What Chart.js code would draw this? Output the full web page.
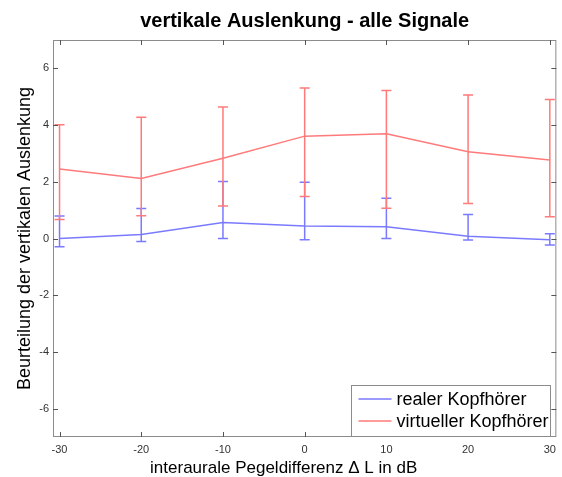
<!DOCTYPE html>
<html lang="de">

<head>
    <meta charset="UTF-8" />
    <title>vertikale Auslenkung - alle Signale</title>
    <script src="https://cdn.jsdelivr.net/npm/chart.js"></script>
    <style>
        body { margin: 0; background: #fff; }
    </style>
</head>

<body>
    <canvas id="chart" width="562" height="477"></canvas>

    <script>
        // Werte
        const levels = [-30, -20, -10, 0, 10, 20, 30];
        const realMean = [0.00, 0.14, 0.56, 0.44, 0.41, 0.08, -0.04];
        const realLow = [-0.29, -0.11, 0.00, -0.04, 0.00, -0.05, -0.23];
        const realHigh = [0.79, 1.06, 2.01, 1.98, 1.42, 0.85, 0.17];
        const virtMean = [2.45, 2.12, 2.83, 3.61, 3.69, 3.06, 2.77];
        const virtLow = [0.67, 0.80, 1.15, 1.48, 1.07, 1.23, 0.77];
        const virtHigh = [4.01, 4.28, 4.64, 5.31, 5.22, 5.06, 4.90];
        const xTicks = [-30, -20, -10, 0, 10, 20, 30];
        const yTicks = [-6, -4, -2, 0, 2, 4, 6];
        const xLabel = "interaurale Pegeldifferenz \u0394 L in dB";

        const FONT = "'Liberation Sans', Arial, sans-serif";
        const blue = "#7a7aff";
        const red = "#ff7a7a";

        // error bars, inner ticks, box, x label and legend (MATLAB look)
        const matlabPlugin = {
            id: "matlab",
            afterDatasetsDraw(chart) {
                const ctx = chart.ctx;
                const x = chart.scales.x, y = chart.scales.y;
                chart.data.datasets.forEach((ds) => {
                    ctx.save();
                    ctx.strokeStyle = ds.borderColor;
                    ctx.lineWidth = 1.5;
                    ds.data.forEach((p, i) => {
                        const px = x.getPixelForValue(p.x);
                        const lo = y.getPixelForValue(ds.low[i]);
                        const hi = y.getPixelForValue(ds.high[i]);
                        ctx.beginPath();
                        ctx.moveTo(px, lo); ctx.lineTo(px, hi);
                        ctx.moveTo(px - 5, lo); ctx.lineTo(px + 5, lo);
                        ctx.moveTo(px - 5, hi); ctx.lineTo(px + 5, hi);
                        ctx.stroke();
                    });
                    ctx.restore();
                });
            },
            afterDraw(chart) {
                const ctx = chart.ctx;
                const a = chart.chartArea;
                const x = chart.scales.x, y = chart.scales.y;
                ctx.save();
                ctx.strokeStyle = "#8c8c8c";
                ctx.lineWidth = 1;
                ctx.strokeRect(a.left + 0.5, a.top + 0.5, a.right - a.left - 1, a.bottom - a.top - 1);
                ctx.strokeStyle = "#555";
                ctx.beginPath();
                xTicks.forEach((v) => {
                    const px = Math.round(x.getPixelForValue(v)) + 0.5;
                    ctx.moveTo(px, a.bottom); ctx.lineTo(px, a.bottom - 5);
                    ctx.moveTo(px, a.top); ctx.lineTo(px, a.top + 5);
                });
                yTicks.forEach((v) => {
                    const py = Math.round(y.getPixelForValue(v)) + 0.5;
                    ctx.moveTo(a.left, py); ctx.lineTo(a.left + 5, py);
                    ctx.moveTo(a.right, py); ctx.lineTo(a.right - 5, py);
                });
                ctx.stroke();

                // x-Achsenbeschriftung (leicht nach links versetzt wie im Original)
                ctx.font = "17px " + FONT;
                ctx.fillStyle = "#000";
                ctx.textAlign = "center";
                ctx.textBaseline = "middle";
                ctx.fillText(xLabel, (a.left + a.right) / 2 - 21, a.bottom + 31);

                // Legende
                ctx.font = "18px " + FONT;
                ctx.textAlign = "left";
                const items = chart.data.datasets;
                const textW = Math.max(...items.map((d) => ctx.measureText(d.label).width));
                const boxW = Math.round(45 + textW + 2);
                const boxH = 51;
                const bx = Math.round(a.right - 6 - boxW) + 0.5;
                const by = Math.round(a.bottom - 1 - boxH) + 0.5;
                ctx.fillStyle = "#fff";
                ctx.fillRect(bx, by, boxW, boxH);
                ctx.strokeStyle = "#8c8c8c";
                ctx.strokeRect(bx, by, boxW, boxH);
                items.forEach((d, i) => {
                    const ly = by + 13.5 + i * 22;
                    ctx.strokeStyle = d.borderColor;
                    ctx.lineWidth = 1.5;
                    ctx.beginPath();
                    ctx.moveTo(bx + 7, ly); ctx.lineTo(bx + 40, ly);
                    ctx.stroke();
                    ctx.fillStyle = "#000";
                    ctx.fillText(d.label, bx + 45, ly + 1);
                });
                ctx.restore();
            },
        };

        const ctxChart = document.getElementById("chart").getContext("2d");
        const chart = new Chart(ctxChart, {
            type: "line",
            data: {
                datasets: [
                    {
                        label: "realer Kopfhörer",
                        data: levels.map((v, i) => ({ x: v, y: realMean[i] })),
                        low: realLow,
                        high: realHigh,
                        borderColor: blue,
                        borderWidth: 1.5,
                        pointRadius: 0,
                        tension: 0,
                    },
                    {
                        label: "virtueller Kopfhörer",
                        data: levels.map((v, i) => ({ x: v, y: virtMean[i] })),
                        low: virtLow,
                        high: virtHigh,
                        borderColor: red,
                        borderWidth: 1.5,
                        pointRadius: 0,
                        tension: 0,
                    },
                ],
            },
            options: {
                responsive: false,
                animation: false,
                layout: { padding: { right: 5 } },
                plugins: {
                    legend: { display: false },
                    tooltip: { enabled: false },
                    title: {
                        display: true,
                        fullSize: false,
                        text: "vertikale Auslenkung - alle Signale",
                        color: "#000",
                        font: { family: FONT, size: 20, weight: "bold" },
                        padding: { top: 9, bottom: 7 },
                    },
                },
                scales: {
                    x: {
                        type: "linear",
                        min: -30.8,
                        max: 30.8,
                        grid: { display: false, drawTicks: false },
                        border: { display: false },
                        afterBuildTicks: (s) => { s.ticks = xTicks.map((v) => ({ value: v })); },
                        afterFit: (s) => { s.height = 40; },
                        ticks: {
                            color: "#333",
                            font: { family: FONT, size: 11 },
                            padding: 6,
                            maxRotation: 0,
                        },
                    },
                    y: {
                        min: -7,
                        max: 7,
                        grid: { display: false, drawTicks: false },
                        border: { display: false },
                        afterBuildTicks: (s) => { s.ticks = yTicks.map((v) => ({ value: v })); },
                        afterFit: (s) => { s.width = 53; },
                        ticks: {
                            color: "#333",
                            font: { family: FONT, size: 11 },
                            padding: 4,
                        },
                        title: {
                            display: true,
                            text: "Beurteilung der vertikalen Auslenkung",
                            color: "#000",
                            font: { family: FONT, size: 18 },
                            padding: { top: 14, bottom: 0 },
                        },
                    },
                },
            },
            plugins: [matlabPlugin],
        });
    </script>
</body>

</html>
